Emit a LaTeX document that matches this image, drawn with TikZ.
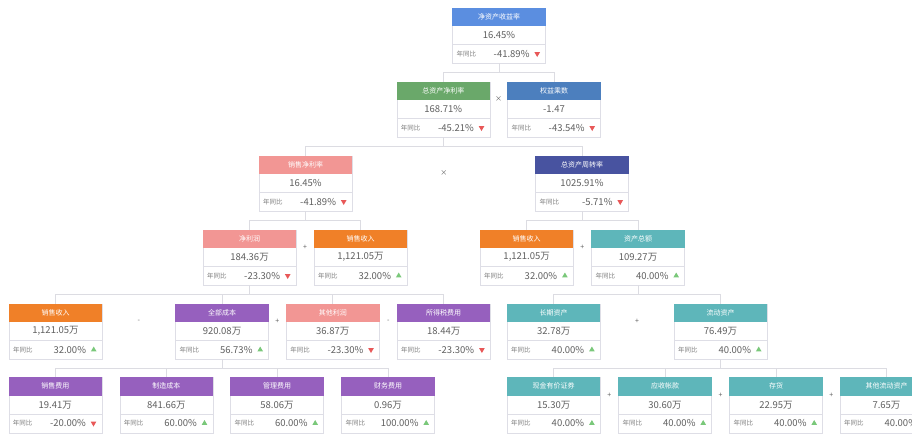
\documentclass[tikz,border=0pt]{standalone}
\usepackage{fontspec}
\setmainfont{Noto Sans CJK SC}
\usetikzlibrary{calc}
\usetikzlibrary{shapes.geometric}

\definecolor{hdblue}{RGB}{91,142,224}
\definecolor{hdgreen}{RGB}{106,168,106}
\definecolor{hdsteel}{RGB}{76,127,190}
\definecolor{hdpink}{RGB}{242,150,148}
\definecolor{hdindigo}{RGB}{72,83,160}
\definecolor{hdorange}{RGB}{240,128,40}
\definecolor{hdteal}{RGB}{94,182,186}
\definecolor{hdpurple}{RGB}{150,96,190}
\definecolor{cardline}{RGB}{222,222,230}
\definecolor{linkgray}{RGB}{220,220,226}
\definecolor{valgray}{RGB}{96,96,96}
\definecolor{lblgray}{RGB}{128,128,128}
\definecolor{upgreen}{RGB}{122,200,122}
\definecolor{downred}{RGB}{232,88,88}

% card: name, centre x, top y, header colour, title, value, change, trend
\newcommand{\kpicard}[8]{%
  \node[card] (#1) at (#2,#3) {};
  \fill[#4] (#1.north west) rectangle ([yshift=-18.5pt]#1.north east);
  \draw[cardline] ([yshift=-37pt]#1.north west) -- ([yshift=-37pt]#1.north east);
  \node[cardtitle] (#1-t) at ([yshift=-9.25pt]#1.north) {#5};
  \node[cardvalue] (#1-v) at ([yshift=-27.75pt]#1.north) {#6};
  \node[cardlabel, anchor=west] (#1-l) at ([xshift=4pt,yshift=-46.25pt]#1.north west) {年同比};
  \node[cardvalue, anchor=east] (#1-c) at ([xshift=-16pt,yshift=-46.25pt]#1.north east) {#7};
  \node[#8] (#1-a) at ([xshift=-8.5pt,yshift=-46.25pt]#1.north east) {};
}

\begin{document}
\begin{tikzpicture}[x=1pt, y=-1pt,
    card/.style={draw=cardline, fill=white, minimum width=93pt, minimum height=55.5pt, inner sep=0, anchor=north},
    cardtitle/.style={text=white, font=\fontsize{7}{8}\selectfont, inner sep=0},
    cardvalue/.style={text=valgray, font=\fontsize{9.5}{11}\selectfont, inner sep=0},
    cardlabel/.style={text=lblgray, font=\fontsize{6.5}{7}\selectfont, inner sep=0},
    trendup/.style={regular polygon, regular polygon sides=3, fill=upgreen, minimum size=6.5pt, inner sep=0},
    trenddown/.style={trendup, shape border rotate=180, fill=downred},
    link/.style={draw=linkgray, line width=0.8pt},
    op/.style={text=valgray, font=\fontsize{7}{8}\selectfont, inner sep=0}]
  % canvas
  \useasboundingbox (0,0) rectangle (912,445);
  \clip (0,0) rectangle (912,445);

  % level 1
  \kpicard{roe}{499}{7.5}{hdblue}{净资产收益率}{16.45\%}{-41.89\%}{trenddown}

  % level 2
  \kpicard{roa}{443.3}{81.5}{hdgreen}{总资产净利率}{168.71\%}{-45.21\%}{trenddown}
  \kpicard{em}{554}{81.5}{hdsteel}{权益乘数}{-1.47}{-43.54\%}{trenddown}

  % level 3
  \kpicard{npm}{305.5}{155.5}{hdpink}{销售净利率}{16.45\%}{-41.89\%}{trenddown}
  \kpicard{tat}{582}{155.5}{hdindigo}{总资产周转率}{1025.91\%}{-5.71\%}{trenddown}

  % level 4
  \kpicard{np}{249.5}{229.5}{hdpink}{净利润}{184.36万}{-23.30\%}{trenddown}
  \kpicard{rev}{360.5}{229.5}{hdorange}{销售收入}{1,121.05万}{32.00\%}{trendup}
  \kpicard{revb}{526.7}{229.5}{hdorange}{销售收入}{1,121.05万}{32.00\%}{trendup}
  \kpicard{ta}{638}{229.5}{hdteal}{资产总额}{109.27万}{40.00\%}{trendup}

  % level 5
  \kpicard{revc}{55.5}{303.5}{hdorange}{销售收入}{1,121.05万}{32.00\%}{trendup}
  \kpicard{cost}{222}{303.5}{hdpurple}{全部成本}{920.08万}{56.73\%}{trendup}
  \kpicard{oth}{332.8}{303.5}{hdpink}{其他利润}{36.87万}{-23.30\%}{trenddown}
  \kpicard{tax}{443.7}{303.5}{hdpurple}{所得税费用}{18.44万}{-23.30\%}{trenddown}
  \kpicard{nca}{553.7}{303.5}{hdteal}{长期资产}{32.78万}{40.00\%}{trendup}
  \kpicard{ca}{720.5}{303.5}{hdteal}{流动资产}{76.49万}{40.00\%}{trendup}

  % level 6
  \kpicard{sell}{55.3}{377}{hdpurple}{销售费用}{19.41万}{-20.00\%}{trenddown}
  \kpicard{mfg}{166.3}{377}{hdpurple}{制造成本}{841.66万}{60.00\%}{trendup}
  \kpicard{adm}{277}{377}{hdpurple}{管理费用}{58.06万}{60.00\%}{trendup}
  \kpicard{fin}{388}{377}{hdpurple}{财务费用}{0.96万}{100.00\%}{trendup}
  \kpicard{cash}{553.7}{377}{hdteal}{现金有价证券}{15.30万}{40.00\%}{trendup}
  \kpicard{recv}{665}{377}{hdteal}{应收帐款}{30.60万}{40.00\%}{trendup}
  \kpicard{inv}{776}{377}{hdteal}{存货}{22.95万}{40.00\%}{trendup}
  \kpicard{oca}{886.5}{377}{hdteal}{其他流动资产}{7.65万}{40.00\%}{trendup}

  % links
  \foreach \c in {roa,em} \draw[link] (roe.south) -- ++(0,9.25) -| (\c.north);
  \foreach \c in {npm,tat} \draw[link] (roa.south) -- ++(0,9.25) -| (\c.north);
  \foreach \c in {np,rev} \draw[link] (npm.south) -- ++(0,9.25) -| (\c.north);
  \foreach \c in {revb,ta} \draw[link] (tat.south) -- ++(0,9.25) -| (\c.north);
  \foreach \c in {revc,cost,oth,tax} \draw[link] (np.south) -- ++(0,9.25) -| (\c.north);
  \foreach \c in {nca,ca} \draw[link] (ta.south) -- ++(0,9.25) -| (\c.north);
  \foreach \c in {sell,mfg,adm,fin} \draw[link] (cost.south) -- ++(0,9.25) -| (\c.north);
  \foreach \c in {cash,recv,inv,oca} \draw[link] (ca.south) -- ++(0,9.25) -| (\c.north);

  % operators
  \node[op, yshift=-18pt] (opa) at ($(roa.north east)!0.5!(em.north west)$) {×};
  \node[op, yshift=-18pt] (opb) at ($(npm.north east)!0.5!(tat.north west)$) {×};
  \node[op, yshift=-18pt] (opc) at ($(np.north east)!0.5!(rev.north west)$) {+};
  \node[op, yshift=-18pt] (opd) at ($(revb.north east)!0.5!(ta.north west)$) {+};
  \node[op, yshift=-18pt] (ope) at ($(revc.north east)!0.5!(cost.north west)$) {-};
  \node[op, yshift=-18pt] (opf) at ($(cost.north east)!0.5!(oth.north west)$) {+};
  \node[op, yshift=-18pt] (opg) at ($(oth.north east)!0.5!(tax.north west)$) {-};
  \node[op, yshift=-18pt] (oph) at ($(nca.north east)!0.5!(ca.north west)$) {+};
  \node[op, yshift=-18pt] (opi) at ($(cash.north east)!0.5!(recv.north west)$) {+};
  \node[op, yshift=-18pt] (opj) at ($(recv.north east)!0.5!(inv.north west)$) {+};
  \node[op, yshift=-18pt] (opk) at ($(inv.north east)!0.5!(oca.north west)$) {+};
\end{tikzpicture}
\end{document}
